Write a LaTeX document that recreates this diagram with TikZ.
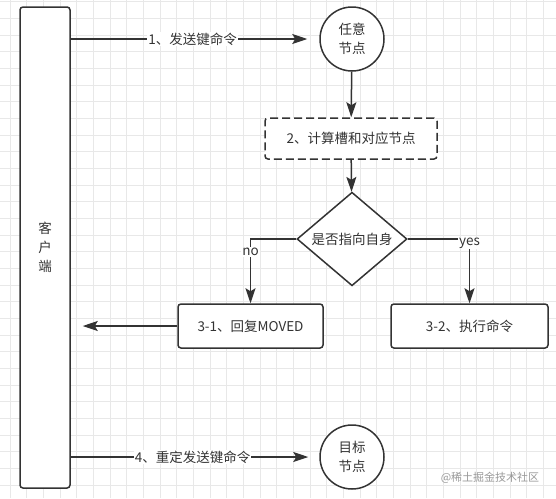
\documentclass[tikz,border=0pt]{standalone}
\usepackage{fontspec}
\setmainfont{Noto Sans CJK SC}
\usetikzlibrary{shapes.geometric,arrows.meta}
\definecolor{inkgray}{HTML}{333333}
\begin{document}
\begin{tikzpicture}[x=1pt,y=-1pt,
		font=\fontsize{13.5}{19}\selectfont, text=inkgray,
		gridline/.style={draw=black!9, line width=0.8pt},
		box/.style={draw=inkgray, line width=1.5pt, rounded corners=3pt, fill=white, inner sep=0pt},
		roundnode/.style={draw=inkgray, line width=1.5pt, circle, fill=white, minimum size=64pt, inner sep=0pt, align=center},
		decision/.style={draw=inkgray, line width=1.5pt, diamond, fill=white, minimum width=110pt, minimum height=86pt, inner sep=0pt},
		arr/.style={draw=inkgray, line width=1.5pt, -{Stealth[length=15pt,width=10pt,inset=3pt]}},
		lbl/.style={fill=white, inner sep=1pt}]
	\useasboundingbox (0,0) rectangle (556,498);
	
	% Background grid
	\fill[white] (0,0) rectangle (556,498);
	\foreach \i in {0,...,32}{
		\draw[gridline] ({10+\i*16.667},0) -- ++(0,498);
	}
	\foreach \j in {0,...,29}{
		\draw[gridline] (0,{1.667+\j*16.667}) -- ++(556,0);
	}
	
	% Nodes
	\node[box, minimum width=50pt, minimum height=481pt, align=center] (client) at (45,247.5) {客\\户\\端};
	\node[roundnode] (anynode) at (352,39) {任意\\节点};
	\node[box, dash pattern=on 8pt off 4pt, minimum width=172pt, minimum height=41pt] (calc) at (351,138.5) {2、计算槽和对应节点};
	\node[decision] (isself) at (352,239) {是否指向自身};
	\node[box, minimum width=145pt, minimum height=44pt] (moved) at (250.5,326) {3-1、回复MOVED};
	\node[box, minimum width=157pt, minimum height=44pt] (exec) at (469.5,326) {3-2、执行命令};
	\node[roundnode] (target) at (352,457) {目标\\节点};
	
	% Connectors
	\draw[arr, shorten >=12pt] (client.east |- anynode) -- (anynode)
		node[lbl, pos=0.49] {1、发送键命令};
	\draw[arr] (anynode) -- (calc);
	\draw[arr] (calc) -- (isself);
	\draw[arr] (isself.west) -| (moved.north) node[lbl, pos=0.6] {no};
	\draw[arr] (isself.east) -| (exec.north) node[lbl, pos=0.53] {yes};
	\draw[arr, shorten >=12pt] (moved.west) -- (moved.west -| client.east);
	\draw[arr, shorten >=11pt] (client.east |- target) -- (target)
		node[lbl, pos=0.49] {4、重定发送键命令};
	
	% Watermark
	\node[text=black!40, font=\fontsize{11}{13}\selectfont] (mark) at (490,478) {@稀土掘金技术社区};
\end{tikzpicture}
\end{document}
